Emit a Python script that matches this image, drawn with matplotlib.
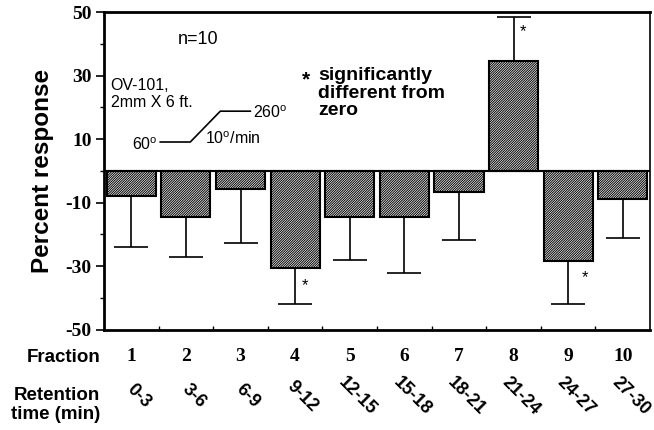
import numpy as np
import matplotlib
matplotlib.use('Agg')
import matplotlib.pyplot as plt

fractions = [1, 2, 3, 4, 5, 6, 7, 8, 9, 10]
retention = ['0-3', '3-6', '6-9', '9-12', '12-15', '15-18', '18-21', '21-24', '24-27', '27-30']
response = [-8, -14.5, -5.7, -30.6, -14.5, -14.5, -6.7, 34.6, -28.5, -8.8]
err = [15.8, 12.5, 17.0, 11.4, 13.5, 17.5, 15.0, 13.8, 13.3, 12.2]
star_pos = [(4.18, -36.2), (8.17, 43.7), (9.31, -33.6)]

# temperature program sketch (x in fraction units, y in percent)
prog_x = [1.53, 2.08, 2.63, 3.18]
prog_y = [9.1, 9.1, 18.8, 18.8]

serif = 'Liberation Serif'
sans = 'Liberation Sans'
plt.rcParams['hatch.linewidth'] = 0.7

fig = plt.figure(figsize=(6.54, 4.30), dpi=100)
ax = fig.add_axes([0.159, 0.233, 0.835, 0.739])

x = np.array(fractions)
r = np.array(response)
e = np.array(err)
lower = np.where(r < 0, e, 0)
upper = np.where(r > 0, e, 0)

ax.bar(x, r, width=0.9, color='white', edgecolor='black', hatch='/' * 14, linewidth=1.5)
ax.errorbar(x, r, yerr=[lower, upper], fmt='none', ecolor='black', elinewidth=1.2,
            capsize=12, capthick=1.2)

for (sx, sy) in star_pos:
    ax.text(sx, sy, '*', fontsize=12, family=sans, ha='center', va='center')

ax.set_xlim(0.5, 10.5)
ax.set_ylim(-50, 50)
ax.set_yticks([-50, -30, -10, 10, 30, 50])
ax.set_yticks([-40, -20, 0, 20, 40], minor=True)
ax.set_yticklabels(['-50', '-30', '-10', '10', '30', '50'], fontsize=14, fontweight='bold', family=serif)
ax.tick_params(axis='y', which='major', length=6, width=1.2, direction='out', pad=3)
ax.tick_params(axis='y', which='minor', length=3, width=1, direction='out')

ax.set_xticks(x)
ax.set_xticklabels([str(f) for f in fractions], fontsize=14, fontweight='bold', family=serif)
ax.set_xticks(np.arange(1.5, 10.5, 1), minor=True)
ax.tick_params(axis='x', which='major', length=0, pad=13)
ax.tick_params(axis='x', which='minor', length=3, width=1, direction='in')

for sp in ['left', 'bottom', 'top']:
    ax.spines[sp].set_linewidth(2)
ax.spines['right'].set_linewidth(1.2)

ax.axhline(0, color='black', linewidth=1.5)

ax.set_ylabel('Percent response', fontsize=17.5, fontweight='bold', family=sans, labelpad=8)

# rotated retention time labels
trans = ax.get_xaxis_transform()
for xi, lab in zip(x, retention):
    ax.text(xi + 0.14, -0.21, lab, transform=trans, rotation=-45, rotation_mode='anchor',
            ha='center', va='center', fontsize=13, fontweight='bold', family=sans)

fig.text(0.153, 1 - 357 / 430, 'Fraction', ha='right', va='center', fontsize=13.5,
         fontweight='bold', family=sans)
fig.text(0.153, 1 - 405 / 430, 'Retention\ntime (min)', ha='right', va='center', fontsize=13.5,
         fontweight='bold', family=sans, linespacing=1.1)

ax.text(2.22, 41.5, 'n=10', fontsize=13, family=sans, ha='center', va='center')
ax.text(0.62, 24.3, 'OV-101,\n2mm X 6 ft.', fontsize=11.5, family=sans, ha='left', va='center',
        linespacing=1.15)
ax.plot(prog_x, prog_y, color='black', linewidth=1.2)
ax.text(1.49, 8.4, '60$^\\mathregular{o}$', fontsize=11.5, family=sans, ha='right', va='center')
ax.text(3.22, 18.2, '260$^\\mathregular{o}$', fontsize=11.5, family=sans, ha='left', va='center')
ax.text(2.35, 10.2, '10$^\\mathregular{o}$/min', fontsize=11.5, family=sans, ha='left', va='center')

ax.text(4.2, 28.8, '*', fontsize=15, family=sans, fontweight='bold', ha='center', va='center')
ax.text(4.42, 32.7, 'significantly\ndifferent from\nzero', fontsize=14, family=sans,
        fontweight='bold', ha='left', va='top', linespacing=1.05)

fig.savefig('out.png', dpi=100)
